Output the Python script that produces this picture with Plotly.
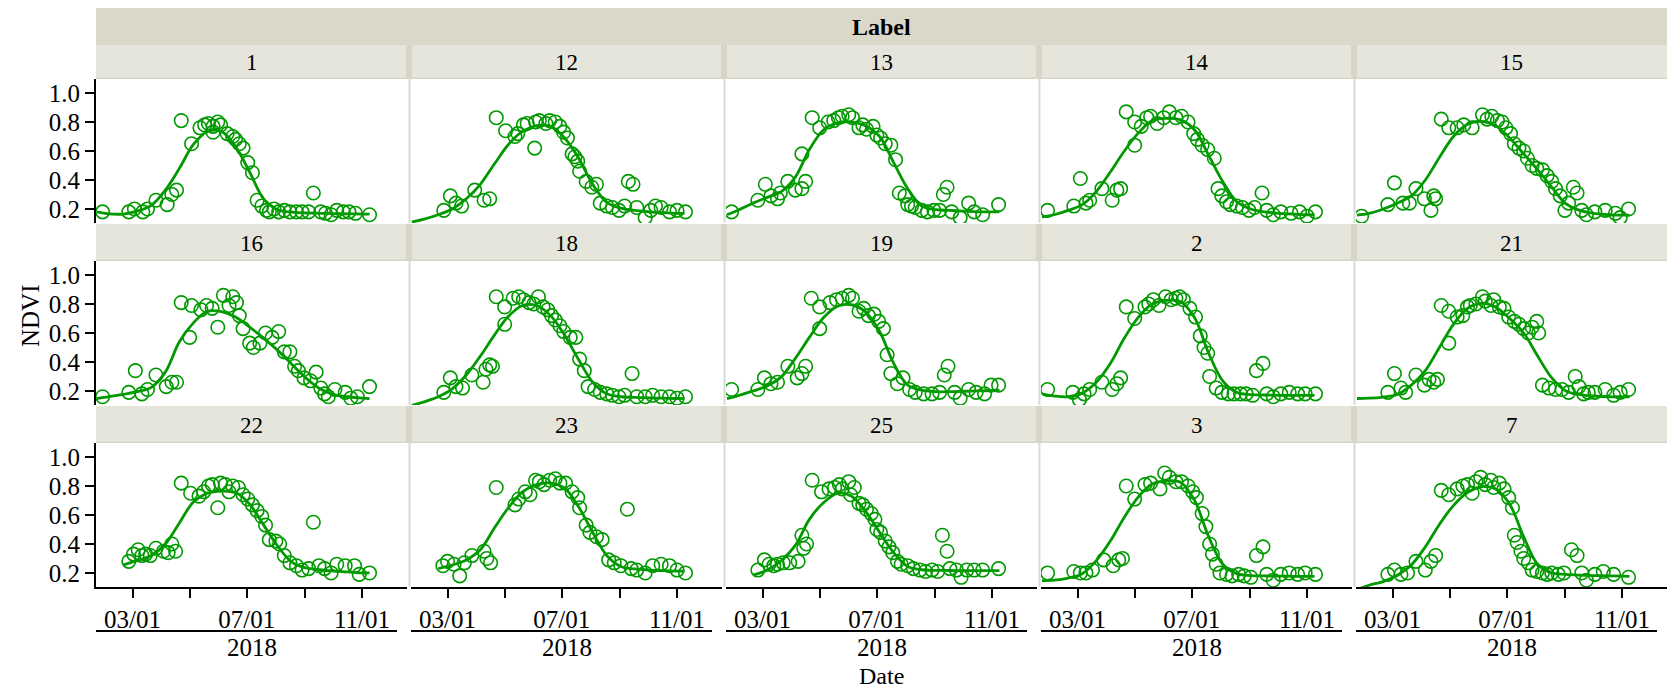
import numpy as np
import pandas as pd
import plotly.graph_objects as go

# ---------------- data ----------------
labels = ["1", "12", "13", "14", "15", "16", "18", "19", "2", "21", "22", "23", "25", "3", "7"]
year_label = "2018"
tick_dates = ["2018-03-01", "2018-05-01", "2018-07-01", "2018-09-01", "2018-11-01"]
tick_text = ["03/01", "", "07/01", "", "11/01"]
y_ticks = [0.2, 0.4, 0.6, 0.8, 1.0]

# day-of-year of each observation and its NDVI
days_1 = [28, 56, 62, 71, 76, 85, 97, 102, 107, 112, 123, 132, 137, 141, 146, 146, 151, 154, 161, 167, 170, 174, 178, 183, 188, 193, 198, 203, 206, 211, 216, 222, 228, 235, 241, 248, 253, 261, 266, 272, 278, 285, 291, 298, 313]
ndvi_1 = [0.18, 0.18, 0.2, 0.18, 0.2, 0.26, 0.23, 0.3, 0.33, 0.81, 0.65, 0.76, 0.78, 0.79, 0.77, 0.73, 0.8, 0.78, 0.72, 0.7, 0.68, 0.65, 0.62, 0.52, 0.45, 0.26, 0.22, 0.19, 0.18, 0.2, 0.18, 0.19, 0.18, 0.18, 0.18, 0.18, 0.31, 0.18, 0.17, 0.16, 0.19, 0.18, 0.18, 0.17, 0.16]
days_12 = [56, 63, 69, 75, 89, 99, 105, 112, 122, 132, 135, 141, 145, 153, 154, 158, 165, 169, 175, 180, 184, 188, 193, 196, 199, 201, 208, 214, 219, 223, 230, 236, 243, 249, 253, 258, 262, 271, 277, 282, 288, 297, 305, 314]
ndvi_12 = [0.19, 0.29, 0.24, 0.22, 0.33, 0.26, 0.27, 0.83, 0.74, 0.7, 0.72, 0.78, 0.79, 0.62, 0.8, 0.81, 0.79, 0.81, 0.8, 0.77, 0.73, 0.69, 0.58, 0.56, 0.53, 0.46, 0.39, 0.35, 0.37, 0.24, 0.22, 0.21, 0.19, 0.22, 0.39, 0.37, 0.21, 0.14, 0.19, 0.22, 0.21, 0.18, 0.19, 0.18]
days_13 = [27, 55, 63, 69, 76, 79, 87, 95, 102, 106, 102, 113, 121, 130, 136, 141, 145, 152, 156, 163, 167, 171, 178, 182, 186, 191, 197, 202, 206, 212, 215, 219, 223, 230, 236, 243, 249, 253, 257, 262, 271, 280, 286, 295, 312]
ndvi_13 = [0.18, 0.26, 0.37, 0.29, 0.27, 0.31, 0.39, 0.33, 0.34, 0.39, 0.58, 0.83, 0.76, 0.8, 0.81, 0.83, 0.84, 0.85, 0.83, 0.76, 0.78, 0.75, 0.77, 0.71, 0.69, 0.65, 0.64, 0.54, 0.31, 0.29, 0.23, 0.22, 0.21, 0.19, 0.18, 0.19, 0.19, 0.3, 0.35, 0.18, 0.14, 0.24, 0.18, 0.16, 0.23]
days_14 = [28, 56, 63, 69, 73, 86, 97, 102, 106, 121, 112, 121, 128, 134, 138, 145, 152, 158, 165, 171, 178, 184, 188, 193, 199, 206, 210, 214, 219, 223, 230, 236, 243, 249, 257, 262, 269, 277, 288, 297, 305, 314]
ndvi_14 = [0.19, 0.22, 0.41, 0.24, 0.26, 0.34, 0.26, 0.33, 0.34, 0.64, 0.87, 0.8, 0.77, 0.83, 0.84, 0.79, 0.83, 0.87, 0.83, 0.84, 0.8, 0.72, 0.68, 0.64, 0.61, 0.55, 0.34, 0.29, 0.25, 0.23, 0.22, 0.21, 0.19, 0.21, 0.31, 0.19, 0.16, 0.18, 0.17, 0.18, 0.15, 0.18]
days_15 = [27, 55, 62, 71, 78, 85, 94, 101, 104, 106, 112, 120, 129, 136, 145, 156, 161, 166, 172, 177, 181, 186, 190, 195, 200, 204, 209, 214, 220, 225, 230, 234, 239, 244, 248, 253, 257, 262, 267, 276, 287, 298, 303, 312]
ndvi_15 = [0.15, 0.23, 0.38, 0.24, 0.24, 0.34, 0.27, 0.19, 0.29, 0.27, 0.82, 0.76, 0.76, 0.78, 0.76, 0.85, 0.82, 0.84, 0.81, 0.8, 0.76, 0.72, 0.65, 0.62, 0.6, 0.55, 0.5, 0.48, 0.47, 0.43, 0.39, 0.34, 0.29, 0.19, 0.24, 0.35, 0.31, 0.19, 0.16, 0.18, 0.19, 0.17, 0.14, 0.2]
days_16 = [28, 56, 63, 70, 76, 85, 96, 102, 107, 112, 121, 123, 133, 139, 145, 151, 157, 163, 167, 171, 174, 178, 185, 189, 196, 202, 209, 216, 222, 228, 233, 237, 243, 250, 256, 261, 265, 269, 276, 287, 293, 300, 313]
ndvi_16 = [0.16, 0.19, 0.34, 0.18, 0.21, 0.31, 0.23, 0.26, 0.26, 0.81, 0.57, 0.79, 0.76, 0.79, 0.77, 0.64, 0.86, 0.79, 0.85, 0.81, 0.72, 0.63, 0.53, 0.5, 0.53, 0.6, 0.57, 0.61, 0.47, 0.47, 0.37, 0.34, 0.29, 0.27, 0.33, 0.22, 0.18, 0.16, 0.21, 0.19, 0.15, 0.16, 0.23]
days_18 = [56, 63, 69, 76, 86, 98, 101, 105, 108, 112, 121, 121, 130, 136, 141, 147, 152, 157, 162, 167, 171, 175, 180, 184, 191, 197, 201, 206, 210, 217, 223, 230, 236, 243, 249, 257, 262, 271, 279, 288, 297, 305, 314]
ndvi_18 = [0.19, 0.29, 0.23, 0.22, 0.31, 0.26, 0.35, 0.38, 0.37, 0.85, 0.66, 0.78, 0.84, 0.85, 0.83, 0.81, 0.8, 0.85, 0.78, 0.76, 0.72, 0.69, 0.65, 0.61, 0.57, 0.57, 0.42, 0.34, 0.23, 0.21, 0.19, 0.18, 0.17, 0.16, 0.17, 0.32, 0.16, 0.16, 0.17, 0.16, 0.16, 0.15, 0.16]
days_19 = [27, 55, 62, 69, 76, 87, 97, 102, 106, 112, 121, 121, 132, 139, 145, 152, 156, 163, 168, 173, 179, 184, 189, 193, 197, 204, 210, 217, 223, 232, 241, 249, 254, 258, 265, 271, 280, 288, 297, 304, 312]
ndvi_19 = [0.21, 0.21, 0.29, 0.25, 0.26, 0.37, 0.29, 0.32, 0.37, 0.84, 0.63, 0.78, 0.81, 0.83, 0.84, 0.86, 0.84, 0.75, 0.77, 0.72, 0.73, 0.68, 0.63, 0.45, 0.32, 0.25, 0.29, 0.21, 0.19, 0.18, 0.18, 0.19, 0.31, 0.37, 0.19, 0.15, 0.21, 0.19, 0.18, 0.24, 0.24]
days_2 = [28, 55, 62, 67, 73, 86, 97, 102, 106, 112, 121, 132, 136, 141, 147, 154, 160, 165, 169, 173, 180, 186, 191, 195, 199, 201, 208, 214, 221, 227, 234, 240, 247, 251, 258, 262, 269, 277, 286, 295, 303, 314]
ndvi_2 = [0.21, 0.19, 0.14, 0.18, 0.21, 0.26, 0.21, 0.25, 0.29, 0.78, 0.7, 0.78, 0.8, 0.83, 0.79, 0.85, 0.83, 0.84, 0.85, 0.83, 0.77, 0.71, 0.58, 0.5, 0.46, 0.3, 0.22, 0.19, 0.18, 0.18, 0.18, 0.18, 0.17, 0.34, 0.39, 0.18, 0.16, 0.18, 0.19, 0.18, 0.18, 0.18]
days_21 = [55, 62, 69, 74, 85, 94, 99, 104, 108, 112, 120, 120, 129, 135, 140, 143, 149, 156, 159, 165, 168, 174, 179, 184, 190, 195, 200, 205, 209, 214, 216, 220, 227, 234, 241, 248, 255, 259, 264, 269, 276, 287, 296, 303, 312]
ndvi_21 = [0.19, 0.32, 0.22, 0.19, 0.31, 0.24, 0.28, 0.26, 0.28, 0.79, 0.75, 0.53, 0.71, 0.72, 0.78, 0.79, 0.8, 0.85, 0.82, 0.79, 0.83, 0.78, 0.77, 0.71, 0.68, 0.66, 0.63, 0.6, 0.64, 0.68, 0.6, 0.24, 0.22, 0.21, 0.21, 0.19, 0.3, 0.23, 0.18, 0.19, 0.19, 0.21, 0.17, 0.19, 0.21]
days_22 = [56, 61, 66, 70, 74, 79, 85, 93, 98, 102, 106, 112, 122, 131, 136, 141, 145, 151, 154, 159, 163, 167, 173, 178, 183, 188, 193, 198, 202, 206, 213, 217, 222, 228, 235, 241, 248, 253, 259, 265, 272, 278, 287, 297, 302, 313]
ndvi_22 = [0.28, 0.33, 0.36, 0.32, 0.33, 0.32, 0.37, 0.35, 0.34, 0.4, 0.35, 0.82, 0.75, 0.73, 0.76, 0.8, 0.81, 0.65, 0.82, 0.81, 0.76, 0.8, 0.79, 0.74, 0.71, 0.67, 0.63, 0.59, 0.53, 0.43, 0.42, 0.4, 0.32, 0.27, 0.25, 0.22, 0.23, 0.55, 0.25, 0.23, 0.2, 0.26, 0.25, 0.25, 0.19, 0.2]
days_23 = [55, 60, 67, 73, 78, 86, 99, 102, 106, 112, 132, 136, 143, 148, 154, 158, 163, 169, 175, 180, 186, 193, 199, 201, 208, 212, 219, 225, 232, 238, 245, 252, 256, 262, 271, 279, 288, 297, 305, 314]
ndvi_23 = [0.25, 0.28, 0.26, 0.18, 0.27, 0.32, 0.35, 0.3, 0.27, 0.79, 0.67, 0.71, 0.76, 0.74, 0.84, 0.83, 0.81, 0.84, 0.85, 0.82, 0.82, 0.76, 0.72, 0.65, 0.53, 0.48, 0.45, 0.43, 0.29, 0.27, 0.25, 0.64, 0.23, 0.22, 0.2, 0.25, 0.26, 0.25, 0.22, 0.2]
days_25 = [55, 62, 67, 72, 76, 82, 89, 98, 102, 104, 107, 113, 123, 131, 137, 142, 145, 152, 154, 158, 163, 167, 171, 176, 180, 182, 186, 191, 195, 199, 204, 208, 215, 221, 228, 234, 241, 247, 252, 257, 260, 267, 272, 278, 286, 295, 312]
ndvi_25 = [0.22, 0.29, 0.26, 0.25, 0.26, 0.27, 0.27, 0.28, 0.46, 0.37, 0.4, 0.84, 0.76, 0.78, 0.79, 0.81, 0.78, 0.83, 0.74, 0.79, 0.68, 0.67, 0.64, 0.61, 0.57, 0.5, 0.48, 0.42, 0.38, 0.34, 0.28, 0.26, 0.25, 0.23, 0.22, 0.21, 0.22, 0.21, 0.46, 0.35, 0.23, 0.22, 0.17, 0.22, 0.22, 0.22, 0.23]
days_3 = [28, 56, 63, 69, 76, 88, 98, 104, 108, 112, 121, 132, 138, 148, 153, 158, 165, 171, 178, 183, 187, 193, 197, 201, 204, 208, 212, 219, 225, 232, 238, 245, 251, 258, 262, 269, 277, 286, 295, 303, 314]
ndvi_3 = [0.2, 0.21, 0.2, 0.2, 0.22, 0.29, 0.25, 0.29, 0.3, 0.8, 0.71, 0.81, 0.82, 0.78, 0.89, 0.86, 0.83, 0.83, 0.8, 0.76, 0.72, 0.61, 0.52, 0.4, 0.33, 0.26, 0.2, 0.19, 0.18, 0.19, 0.18, 0.17, 0.32, 0.38, 0.19, 0.15, 0.19, 0.2, 0.19, 0.2, 0.19]
days_7 = [55, 62, 69, 76, 85, 95, 101, 106, 112, 120, 129, 135, 140, 145, 149, 154, 159, 165, 168, 174, 179, 184, 188, 190, 193, 197, 200, 205, 209, 214, 220, 225, 230, 237, 243, 251, 257, 262, 267, 276, 285, 296, 312]
ndvi_7 = [0.19, 0.22, 0.19, 0.2, 0.28, 0.22, 0.28, 0.32, 0.77, 0.74, 0.78, 0.8, 0.81, 0.75, 0.83, 0.86, 0.81, 0.84, 0.79, 0.82, 0.78, 0.72, 0.65, 0.46, 0.41, 0.35, 0.3, 0.27, 0.22, 0.21, 0.2, 0.19, 0.2, 0.19, 0.2, 0.36, 0.32, 0.2, 0.15, 0.19, 0.21, 0.19, 0.17]

# smoothed fit, sampled at these days
curve_days = [22, 35, 50, 65, 80, 95, 110, 125, 140, 155, 170, 185, 200, 215, 230, 245, 260, 275, 290, 305, 313]
curve_1 = [0.18, 0.166, 0.165, 0.185, 0.225, 0.33, 0.48, 0.645, 0.735, 0.735, 0.63, 0.455, 0.27, 0.195, 0.178, 0.172, 0.17, 0.168, 0.166, 0.165, 0.165]
curve_12 = [0.11, 0.13, 0.16, 0.2, 0.27, 0.37, 0.51, 0.645, 0.735, 0.775, 0.77, 0.69, 0.55, 0.37, 0.245, 0.205, 0.19, 0.18, 0.175, 0.17, 0.17]
curve_13 = [0.16, 0.195, 0.24, 0.28, 0.32, 0.42, 0.61, 0.745, 0.795, 0.8, 0.775, 0.7, 0.52, 0.34, 0.22, 0.195, 0.19, 0.185, 0.18, 0.18, 0.18]
curve_14 = [0.145, 0.16, 0.19, 0.23, 0.32, 0.455, 0.6, 0.725, 0.81, 0.825, 0.815, 0.745, 0.57, 0.39, 0.25, 0.2, 0.18, 0.17, 0.165, 0.16, 0.16]
curve_15 = [0.158, 0.17, 0.2, 0.24, 0.29, 0.4, 0.555, 0.7, 0.785, 0.805, 0.775, 0.69, 0.58, 0.47, 0.35, 0.237, 0.19, 0.17, 0.16, 0.157, 0.157]
curve_16 = [0.147, 0.16, 0.177, 0.195, 0.225, 0.33, 0.54, 0.67, 0.75, 0.748, 0.71, 0.64, 0.565, 0.48, 0.385, 0.29, 0.215, 0.175, 0.16, 0.15, 0.147]
curve_18 = [0.1, 0.125, 0.16, 0.215, 0.31, 0.44, 0.585, 0.715, 0.79, 0.79, 0.72, 0.585, 0.415, 0.26, 0.18, 0.16, 0.155, 0.152, 0.15, 0.148, 0.147]
curve_19 = [0.147, 0.17, 0.2, 0.235, 0.297, 0.425, 0.57, 0.705, 0.785, 0.795, 0.745, 0.61, 0.39, 0.24, 0.205, 0.195, 0.195, 0.198, 0.2, 0.203, 0.205]
curve_2 = [0.18, 0.165, 0.16, 0.185, 0.26, 0.39, 0.565, 0.71, 0.8, 0.825, 0.815, 0.705, 0.46, 0.27, 0.19, 0.175, 0.172, 0.17, 0.17, 0.17, 0.17]
curve_21 = [0.148, 0.15, 0.158, 0.175, 0.24, 0.34, 0.5, 0.66, 0.77, 0.805, 0.78, 0.7, 0.6, 0.44, 0.29, 0.2, 0.175, 0.165, 0.16, 0.16, 0.16]
curve_22 = [None, None, 0.255, 0.285, 0.32, 0.4, 0.545, 0.69, 0.75, 0.765, 0.755, 0.675, 0.53, 0.385, 0.275, 0.235, 0.222, 0.213, 0.207, 0.2, 0.2]
curve_23 = [None, None, 0.23, 0.255, 0.29, 0.36, 0.51, 0.65, 0.76, 0.81, 0.82, 0.785, 0.655, 0.48, 0.32, 0.245, 0.228, 0.22, 0.216, 0.213, 0.212]
curve_25 = [None, None, 0.185, 0.22, 0.285, 0.39, 0.57, 0.685, 0.75, 0.73, 0.625, 0.48, 0.34, 0.245, 0.222, 0.218, 0.217, 0.216, 0.216, 0.216, 0.216]
curve_3 = [0.147, 0.15, 0.165, 0.195, 0.285, 0.42, 0.585, 0.725, 0.815, 0.835, 0.825, 0.7, 0.45, 0.26, 0.195, 0.182, 0.18, 0.178, 0.177, 0.177, 0.177]
curve_7 = [0.085, 0.115, 0.14, 0.185, 0.255, 0.38, 0.535, 0.665, 0.755, 0.795, 0.78, 0.675, 0.45, 0.26, 0.2, 0.19, 0.185, 0.182, 0.18, 0.178, 0.177]

point_days = [days_1, days_12, days_13, days_14, days_15, days_16, days_18, days_19,
              days_2, days_21, days_22, days_23, days_25, days_3, days_7]
point_ndvi = [ndvi_1, ndvi_12, ndvi_13, ndvi_14, ndvi_15, ndvi_16, ndvi_18, ndvi_19,
              ndvi_2, ndvi_21, ndvi_22, ndvi_23, ndvi_25, ndvi_3, ndvi_7]
curves = [curve_1, curve_12, curve_13, curve_14, curve_15, curve_16, curve_18, curve_19,
          curve_2, curve_21, curve_22, curve_23, curve_25, curve_3, curve_7]

# ---------------- styling / layout ----------------
PAGE_OFF = 8                       # default body margin of the html page
W, H = 1675 - 2 * PAGE_OFF, 697 - 2 * PAGE_OFF
FONT = "Liberation Serif, Times New Roman, serif"
GREEN = "rgb(0,153,0)"
X_RANGE = ["2018-01-21", "2018-12-19"]
Y_RANGE = [0.103, 1.097]
COL_LEFT, COL_STEP, COL_W = 96, 315, 311
ROW_TOP, ROW_STEP, PLOT_H = 79, 182, 144
STRIP_FILL = "#e6e5dc"
STRIP_EDGE = "#d6d5c6"
HEADER_FILL = "#d9d8c9"
TXT = 25


def px(x):
    return (x - PAGE_OFF) / W


def py(y):
    return 1 - (y - PAGE_OFF) / H


def to_dates(days):
    return pd.Timestamp("2018-01-01") + pd.to_timedelta(np.asarray(days, dtype=float) - 1, unit="D")


def note(text, x, y, size, **kw):
    return dict(text=text, x=px(x), y=py(y), xref="paper", yref="paper", showarrow=False,
                xanchor="center", yanchor="middle",
                font=dict(family=FONT, size=size, color="black"), **kw)


fig = go.Figure()
layout = dict(
    width=W, height=H, autosize=False,
    margin=dict(l=0, r=0, t=0, b=0, pad=0),
    paper_bgcolor="white", plot_bgcolor="white",
    showlegend=False,
    font=dict(family=FONT, color="black", size=TXT),
)
shapes = []
annotations = []
grid_right = COL_LEFT + 4 * COL_STEP + COL_W
grid_mid = (COL_LEFT + grid_right) / 2

# top header "Label"
shapes.append(dict(type="rect", xref="paper", yref="paper", layer="below",
                   x0=px(COL_LEFT), x1=px(grid_right), y0=py(45), y1=py(8),
                   fillcolor=HEADER_FILL, line=dict(width=0)))
annotations.append(note("<b>Label</b>", grid_mid, 27, 24))

for i, lab in enumerate(labels):
    r, c = divmod(i, 5)
    n = i + 1
    xname = "x" if n == 1 else f"x{n}"
    yname = "y" if n == 1 else f"y{n}"
    L = COL_LEFT + COL_STEP * c
    T = ROW_TOP + ROW_STEP * r

    fig.add_trace(go.Scatter(
        x=to_dates(point_days[i]), y=point_ndvi[i], mode="markers", xaxis=xname, yaxis=yname,
        marker=dict(symbol="circle-open", size=13.5, color=GREEN, line=dict(width=1.6, color=GREEN)),
        hoverinfo="skip"))
    fig.add_trace(go.Scatter(
        x=to_dates(curve_days), y=curves[i], mode="lines", xaxis=xname, yaxis=yname,
        line=dict(color=GREEN, width=2.8, shape="spline", smoothing=1.0),
        connectgaps=False, hoverinfo="skip"))

    layout["xaxis" if n == 1 else f"xaxis{n}"] = dict(
        domain=[px(L), px(L + COL_W)], anchor=yname, type="date", range=X_RANGE,
        showgrid=False, zeroline=False,
        tickmode="array", tickvals=tick_dates, ticktext=tick_text,
        showline=(r == 2), linecolor="black", linewidth=2,
        ticks="outside" if r == 2 else "", ticklen=9, tickwidth=2, tickcolor="black",
        showticklabels=(r == 2), tickfont=dict(family=FONT, size=TXT, color="black"),
        fixedrange=True)
    layout["yaxis" if n == 1 else f"yaxis{n}"] = dict(
        domain=[py(T + PLOT_H), py(T)], anchor=xname, range=Y_RANGE,
        showgrid=False, zeroline=False,
        tickmode="array", tickvals=y_ticks, ticktext=[f"{v:.1f}" for v in y_ticks],
        showticklabels=(c == 0), ticks="outside" if c == 0 else "",
        ticklen=9, tickwidth=2, tickcolor="black",
        showline=(c == 0 or c == 4), side="right" if c == 4 else "left",
        linecolor="black", linewidth=2,
        tickfont=dict(family=FONT, size=TXT, color="black"),
        fixedrange=True)

    # strip
    s_top = 45 if r == 0 else T - 37
    shapes.append(dict(type="rect", xref="paper", yref="paper", layer="below",
                       x0=px(L - (3 if c > 0 else 0)), x1=px(L + COL_W + (3 if c < 4 else 0)),
                       y0=py(T), y1=py(s_top), fillcolor=STRIP_EDGE, line=dict(width=0)))
    shapes.append(dict(type="rect", xref="paper", yref="paper", layer="below",
                       x0=px(L + (1 if c > 0 else 0)), x1=px(L + COL_W - (1 if c < 4 else 0)),
                       y0=py(T - 1.5), y1=py(s_top), fillcolor=STRIP_FILL, line=dict(width=0)))
    annotations.append(note(lab, L + COL_W / 2, (s_top + T) / 2 + 0.5, 23))
    # light separator between panels
    if c > 0:
        shapes.append(dict(type="line", xref="paper", yref="paper", layer="below",
                           x0=px(L - 1.5), x1=px(L - 1.5), y0=py(T + PLOT_H), y1=py(T),
                           line=dict(color="#d9d9d9", width=2)))
    if r == 2:
        shapes.append(dict(type="line", xref="paper", yref="paper",
                           x0=px(L), x1=px(L + COL_W - 10), y0=py(631), y1=py(631),
                           line=dict(color="black", width=2)))
        annotations.append(note(year_label, L + COL_W / 2, 647, TXT))

annotations.append(note("Date", grid_mid, 676, 24))
annotations.append(note("NDVI", 30, 316, TXT, textangle=-90))

layout["shapes"] = shapes
layout["annotations"] = annotations
fig.update_layout(**layout)
fig.write_html("out.html", config={"displayModeBar": False})
